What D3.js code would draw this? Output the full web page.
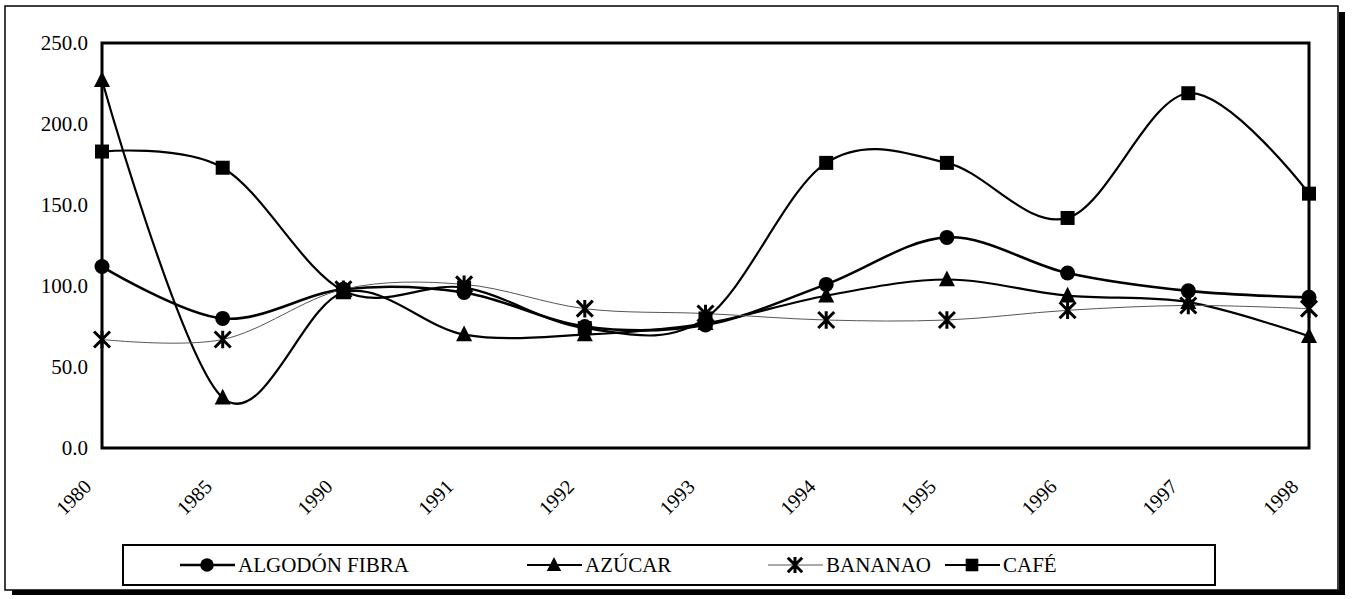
<!DOCTYPE html>
<html>
<head>
<meta charset="utf-8">
<script src="https://cdn.jsdelivr.net/npm/d3@7"></script>
<style>
  html, body { margin: 0; padding: 0; background: #fff; }
  svg { display: block; }
  svg text { font-family: "Liberation Serif", Tinos, "Times New Roman", Times, "Noto Serif", "DejaVu Serif", serif !important; fill: #000; }
</style>
</head>
<body>
<svg id="chart" width="1353" height="599"></svg>
<script>
const years = ["1980","1985","1990","1991","1992","1993","1994","1995","1996","1997","1998"];
const algodon = [112, 80, 98, 96, 75, 76, 101, 130, 108, 97, 93];
const azucar  = [227, 31, 96, 70, 70, 77, 94, 104, 94, 90, 69];
const bananao = [67, 67, 98, 101, 86, 83, 79, 79, 85, 88, 86];
const cafe    = [183, 173, 97, 99, 74, 80, 176, 176, 142, 219, 157];
const yTicks  = [0, 50, 100, 150, 200, 250];
const seriesNames = ["ALGODÓN FIBRA", "AZÚCAR", "BANANAO", "CAFÉ"];

const series = [
  {name: seriesNames[0], values: algodon, marker: "circle",   width: 2.6, color: "#000"},
  {name: seriesNames[1], values: azucar,  marker: "triangle", width: 2.2, color: "#000"},
  {name: seriesNames[2], values: bananao, marker: "asterisk", width: 1,   color: "#555"},
  {name: seriesNames[3], values: cafe,    marker: "square",   width: 2.2, color: "#000"}
];

const svg = d3.select("#chart");
const plot = {left: 102, right: 1309, top: 43, bottom: 448};

// outer frame with shadow
svg.append("rect").attr("x", 1339).attr("y", 12).attr("width", 6).attr("height", 583).attr("fill", "#000");
svg.append("rect").attr("x", 12).attr("y", 590).attr("width", 1333).attr("height", 5).attr("fill", "#000");
svg.append("rect").attr("x", 5).attr("y", 6).attr("width", 1333).attr("height", 584)
  .attr("fill", "none").attr("stroke", "#000").attr("stroke-width", 1.5);

const x = d3.scalePoint().domain(years).range([plot.left, plot.right]).padding(0);
const y = d3.scaleLinear().domain([0, 250]).range([plot.bottom, plot.top]);

// plot frame
svg.append("rect").attr("x", plot.left).attr("y", plot.top)
  .attr("width", plot.right - plot.left).attr("height", plot.bottom - plot.top)
  .attr("fill", "none").attr("stroke", "#000").attr("stroke-width", 3);

// y axis
const yAxis = d3.axisLeft(y).tickValues(yTicks).tickFormat(d3.format(".1f")).tickSize(0).tickPadding(14);
const gy = svg.append("g").attr("transform", `translate(${plot.left},0)`).call(yAxis);
gy.attr("font-family", null);
gy.select(".domain").remove();
gy.selectAll("text").style("font-size", "21px");

// x axis
const xAxis = d3.axisBottom(x).tickSize(0).tickPadding(0);
const gx = svg.append("g").attr("transform", `translate(0,${plot.bottom})`).call(xAxis);
gx.attr("font-family", null);
gx.select(".domain").remove();
gx.selectAll("text")
  .style("font-size", "20px")
  .attr("text-anchor", "end")
  .attr("dy", 0).attr("y", 0)
  .attr("transform", "translate(-10,40) rotate(-45)");

// lines
const line = d3.line()
  .x((d, i) => x(years[i]))
  .y(d => y(d))
  .curve(d3.curveCardinal.tension(0));

series.forEach(s => {
  svg.append("path").datum(s.values)
    .attr("d", line)
    .attr("fill", "none")
    .attr("stroke", s.color)
    .attr("stroke-width", s.width);
});

function drawMarker(g, type, cx, cy, scale) {
  scale = scale || 1;
  if (type === "circle") {
    g.append("circle").attr("cx", cx).attr("cy", cy).attr("r", 7.5 * scale).attr("fill", "#000");
  } else if (type === "square") {
    const s = 14 * scale;
    g.append("rect").attr("x", cx - s / 2).attr("y", cy - s / 2).attr("width", s).attr("height", s).attr("fill", "#000");
  } else if (type === "triangle") {
    const h = 15 * scale, w = 16 * scale;
    g.append("path").attr("d", `M${cx},${cy - h * 0.6}L${cx + w / 2},${cy + h * 0.45}L${cx - w / 2},${cy + h * 0.45}Z`).attr("fill", "#000");
  } else if (type === "asterisk") {
    const r = 8 * scale;
    g.append("path")
      .attr("d", `M${cx - r},${cy - r}L${cx + r},${cy + r}M${cx + r},${cy - r}L${cx - r},${cy + r}M${cx},${cy - r * 1.1}L${cx},${cy + r * 1.1}`)
      .attr("stroke", "#000").attr("stroke-width", 3).attr("fill", "none");
  }
}

const mg = svg.append("g");
series.forEach(s => {
  s.values.forEach((v, i) => drawMarker(mg, s.marker, x(years[i]), y(v)));
});

// legend
const lg = svg.append("g");
lg.append("rect").attr("x", 123).attr("y", 545).attr("width", 1092).attr("height", 40)
  .attr("fill", "#fff").attr("stroke", "#000").attr("stroke-width", 2);
const legendX = [180, 527, 768, 945];
series.forEach((s, i) => {
  const lx = legendX[i], ly = 565;
  lg.append("line").attr("x1", lx).attr("x2", lx + 55).attr("y1", ly).attr("y2", ly)
    .attr("stroke", s.color).attr("stroke-width", s.width);
  drawMarker(lg, s.marker, lx + 27, ly, 0.9);
  lg.append("text").attr("x", lx + 58).attr("y", ly + 7)
    .style("font-size", "21px").text(s.name);
});
</script>
</body>
</html>
